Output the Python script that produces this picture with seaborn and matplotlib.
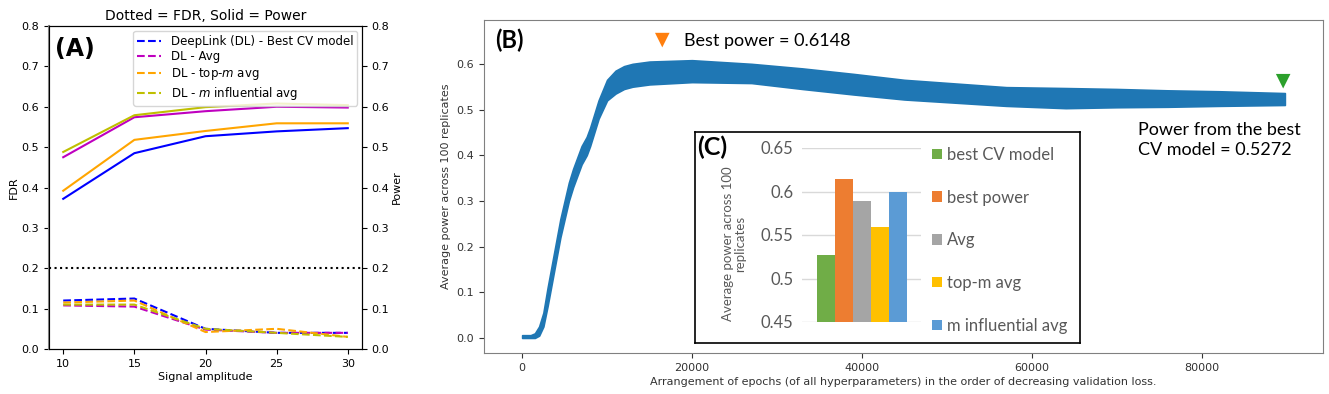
import numpy as np
import pandas as pd
import matplotlib
matplotlib.use("Agg")
import matplotlib.pyplot as plt
import seaborn as sns
from matplotlib.patches import Patch
from matplotlib.lines import Line2D

# ---------------- Panel A data ----------------
amplitude = [10, 15, 20, 25, 30]
methods = ["DeepLink (DL) - Best CV model", "DL - Avg", "DL - top-$m$ avg", "DL - $m$ influential avg"]
method_colors = ["b", "m", "orange", "y"]

power_best = [0.372, 0.485, 0.527, 0.539, 0.547]
power_avg = [0.475, 0.574, 0.589, 0.600, 0.598]
power_topm = [0.392, 0.518, 0.540, 0.559, 0.559]
power_infl = [0.488, 0.579, 0.599, 0.608, 0.604]

fdr_best = [0.120, 0.125, 0.050, 0.040, 0.040]
fdr_avg = [0.108, 0.105, 0.048, 0.040, 0.040]
fdr_topm = [0.115, 0.120, 0.042, 0.050, 0.030]
fdr_infl = [0.110, 0.110, 0.050, 0.040, 0.030]

fdr_target = 0.2

# ---------------- Panel B data (band envelope) ----------------
epochs = [0, 1000, 1500, 2000, 2500, 3000, 3500, 4000, 4500, 5000, 5500, 6000,
          7000, 7600, 8000, 9000, 10000, 11000, 12000, 13000, 15000, 20000,
          27000, 33000, 39000, 45000, 51000, 57000, 64000, 70000, 76000, 82000, 89800]
band_low = [0.000, 0.000, 0.000, 0.005, 0.025, 0.07, 0.12, 0.17, 0.22, 0.26, 0.30, 0.33,
            0.38, 0.40, 0.42, 0.48, 0.52, 0.535, 0.545, 0.55, 0.555, 0.56,
            0.558, 0.545, 0.533, 0.522, 0.515, 0.508, 0.503, 0.505, 0.506, 0.508, 0.510]
band_high = [0.006, 0.006, 0.010, 0.025, 0.055, 0.11, 0.16, 0.21, 0.26, 0.30, 0.34, 0.37,
             0.42, 0.44, 0.46, 0.52, 0.565, 0.585, 0.595, 0.60, 0.605, 0.608,
             0.60, 0.59, 0.578, 0.565, 0.557, 0.549, 0.547, 0.545, 0.542, 0.540, 0.536]
marker_epochs = [16500, 89600]
marker_power = [0.652, 0.562]
marker_colors = ["#ff7f0e", "#2ca02c"]

# ---------------- Panel C data ----------------
c_labels = ["best CV model", "best power", "Avg", "top-m avg", "m influential avg"]
c_values = [0.5272, 0.6148, 0.589, 0.559, 0.599]
c_colors = ["#70AD47", "#ED7D31", "#A5A5A5", "#FFC000", "#5B9BD5"]

W, H = 1329, 394
fig = plt.figure(figsize=(W / 100, H / 100), dpi=100)

def fx(px):
    return px / W

def fy(py):
    return 1 - py / H

# ================= Panel A =================
axA = fig.add_axes([fx(49), fy(349), fx(362 - 49), (349 - 26) / H])
powers = [power_best, power_avg, power_topm, power_infl]
fdrs = [fdr_best, fdr_avg, fdr_topm, fdr_infl]
for lab, col, pw, fd in zip(methods, method_colors, powers, fdrs):
    sns.lineplot(x=amplitude, y=fd, ax=axA, color=col, linestyle="--", linewidth=1.5)
    sns.lineplot(x=amplitude, y=pw, ax=axA, color=col, linestyle="-", linewidth=1.5)
axA.axhline(fdr_target, color="black", linestyle=":", linewidth=1.5)
axA.set_ylim(0, 0.8)
axA.set_xlim(9, 31)
axA.set_xticks([10, 15, 20, 25, 30])
axA.tick_params(labelsize=8)
axA.set_xlabel("Signal amplitude", fontsize=8, labelpad=2)
axA.set_ylabel("FDR", fontsize=8, labelpad=2)
axA.set_title("Dotted = FDR, Solid = Power", fontsize=10, pad=4)
axA.spines["left"].set_color("#888888")
axA.spines["left"].set_linewidth(1.5)
handles = [Line2D([0], [0], color=c, linestyle="--", linewidth=1.5) for c in method_colors]
axA.legend(handles, methods, loc="upper right", fontsize=8.5, handlelength=2.0,
           borderaxespad=0.4, labelspacing=0.22, borderpad=0.35, framealpha=0.8)
axA.text(0.02, 0.965, "(A)", transform=axA.transAxes, fontsize=17, fontweight="bold",
         va="top", ha="left")
axA2 = axA.twinx()
axA2.set_ylim(0, 0.8)
axA2.tick_params(labelsize=8)
axA2.set_ylabel("Power", fontsize=8, labelpad=2)

# ================= Panel B =================
grey_txt = "#333333"
axB = fig.add_axes([fx(484), fy(353), fx(1323 - 484), (353 - 20) / H])
axB.fill_between(epochs, band_low, band_high, color="#1f77b4", linewidth=1.2, edgecolor="#1f77b4")
sns.scatterplot(x=marker_epochs, y=marker_power, ax=axB, hue=marker_colors,
                palette=dict(zip(marker_colors, marker_colors)), marker="v", s=110,
                linewidth=0, legend=False)
axB.set_xlim(-4490, 94290)
axB.set_ylim(-0.033, 0.696)
axB.set_xticks([0, 20000, 40000, 60000, 80000])
axB.set_yticks([0.0, 0.1, 0.2, 0.3, 0.4, 0.5, 0.6])
axB.tick_params(labelsize=8, colors=grey_txt)
for s in axB.spines.values():
    s.set_color("#808080")
axB.set_xlabel("Arrangement of epochs (of all hyperparameters) in the order of decreasing validation loss.",
               fontsize=8, color=grey_txt, labelpad=3)
axB.set_ylabel("Average power across 100 replicates", fontsize=8, color=grey_txt, labelpad=4)
fig.text(fx(495), fy(40), "(B)", fontsize=17, fontweight="bold", family="Lato", va="center", ha="left")
fig.text(fx(684), fy(41), "Best power = 0.6148", fontsize=13, family="Lato", va="center", ha="left")
fig.text(fx(1138), fy(140), "Power from the best\nCV model = 0.5272", fontsize=13, family="Lato",
         va="center", ha="left", linespacing=1.35)

# ================= Panel C (inset) =================
axBox = fig.add_axes([fx(695), fy(343), fx(1080 - 695), (343 - 132) / H])
axBox.set_xticks([])
axBox.set_yticks([])
axBox.patch.set_facecolor("white")
for s in axBox.spines.values():
    s.set_color("black")
    s.set_linewidth(1.2)

axC = fig.add_axes([fx(802), fy(322), fx(921 - 802), (322 - 148) / H])
dfc = pd.DataFrame({"label": c_labels, "value": c_values})
sns.barplot(data=dfc, x="label", y="value", hue="label", palette=dict(zip(c_labels, c_colors)),
            width=1.0, saturation=1, ax=axC, legend=False, zorder=3)
axC.set_xlim(-1.33, 5.28)
axC.set_ylim(0.45, 0.65)
axC.set_yticks([0.45, 0.5, 0.55, 0.6, 0.65])
axC.set_yticklabels(["0.45", "0.5", "0.55", "0.6", "0.65"])
axC.yaxis.grid(True, color="#d9d9d9", linewidth=1.0, zorder=0)
axC.set_axisbelow(True)
axC.set_xticks([])
axC.set_xlabel("")
for s in axC.spines.values():
    s.set_visible(False)
axC.tick_params(axis="y", length=0, labelsize=12, colors="#595959", pad=6)
for t in axC.get_yticklabels():
    t.set_family("Lato")
axC.set_ylabel("Average power across 100\nreplicates", fontsize=9.5, color="#595959",
               family="Lato", linespacing=1.0)
axC.yaxis.set_label_coords(-0.47, 0.45)
c_handles = [Patch(facecolor=c, edgecolor="none") for c in c_colors]
fig.legend(c_handles, c_labels, loc="upper left", bbox_to_anchor=(fx(932), fy(147)),
           frameon=False, prop={"family": "Lato", "size": 12}, labelcolor="#595959",
           handlelength=0.6, handleheight=0.6, handletextpad=0.3, labelspacing=1.6,
           borderaxespad=0, borderpad=0)
fig.text(fx(697), fy(147), "(C)", fontsize=18, fontweight="bold", family="Lato", va="center", ha="left")

fig.savefig("out.png", dpi=100)
